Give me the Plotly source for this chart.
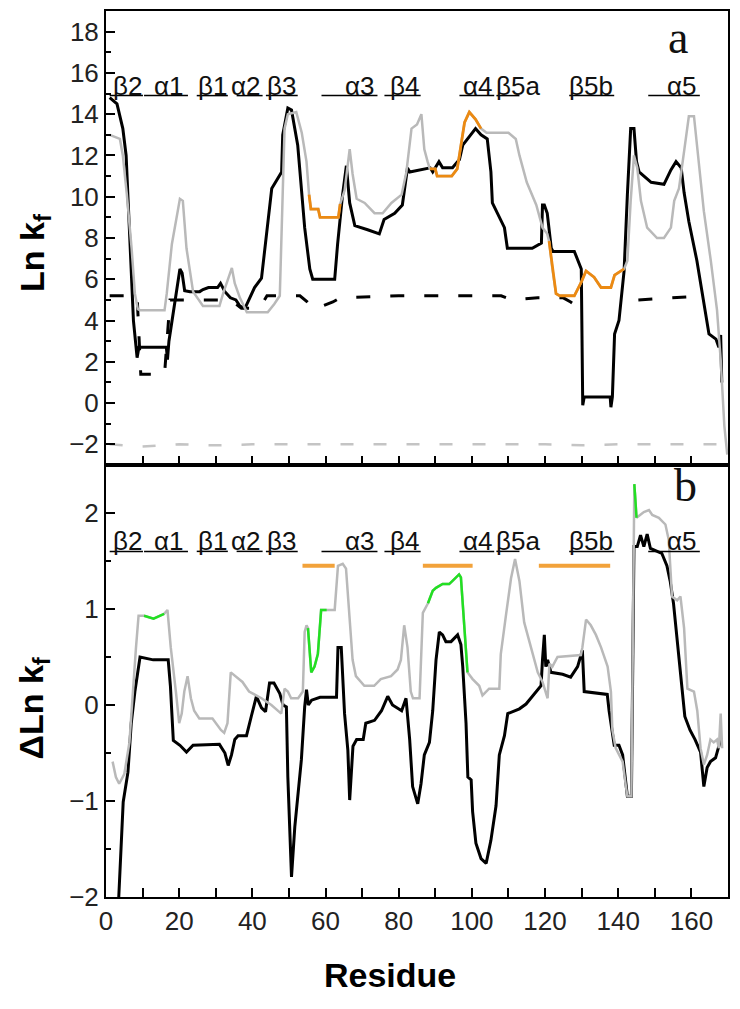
import plotly.graph_objects as go
from plotly.subplots import make_subplots

# ---------------- data ----------------
# panel a : Ln kf, grey (solid) curve
a_grey_x = [1, 3.8, 4.6, 5.7, 7.0, 7.9, 8.7, 9.3, 16.0, 16.6, 18.0, 20.2, 21.0, 22.0, 23.8, 25.6, 26.5, 31.0,
            32.0, 34.4, 35.2, 36.6, 38.5, 44.2, 46.0, 47.5, 48.0, 48.8, 49.7, 52.0, 53.5, 54.8, 55.5, 56.0,
            58.0, 58.5, 63.5, 64.0, 65.2, 66.6, 67.4, 68.5, 70.7, 73.4, 75.6, 78.0, 80.8, 82.1, 83.5, 85.0,
            86.2, 87.0, 87.9, 88.5, 90.0, 90.5, 94.5, 96.0, 97.0, 98.0, 99.3, 101.0, 102.5, 104.0, 110.0,
            112.0, 113.0, 115.0, 117.6, 119.3, 120.6, 121.1, 122.0, 123.0, 124.0, 128.0, 130.0, 131.2, 133.4,
            135.3, 138.0, 139.0, 141.6, 142.5, 143.4, 144.3, 145.2, 146.2, 147.9, 150.6, 152.5, 154.4, 155.3,
            156.6, 158.0, 159.3, 160.7, 161.5, 163.4, 165.3, 167.0, 168.0, 169.0, 169.8]
a_grey_y = [13.0, 12.8, 12.0, 10.1, 7.5, 5.3, 4.55, 4.5, 4.5, 5.3, 7.7, 9.9, 9.8, 7.5, 5.4, 4.95, 4.7, 4.7,
            5.3, 6.55, 5.8, 5.1, 4.4, 4.4, 4.8, 5.2, 8.5, 13.3, 14.0, 14.1, 13.1, 11.7, 10.1, 9.4,
            9.4, 9.0, 9.0, 9.65, 10.3, 12.3, 11.1, 9.9, 9.7, 9.2, 9.2, 9.7, 10.1, 11.2, 13.3, 13.5,
            14.0, 12.3, 11.7, 11.35, 11.35, 11.0, 11.0, 11.35, 12.5, 13.6, 14.1, 13.75, 13.3, 13.1, 13.1,
            12.8, 12.0, 10.7, 9.6, 8.5, 8.2, 7.85, 6.5, 5.3, 5.2, 5.2, 5.9, 6.4, 6.1,
            5.6, 5.6, 6.2, 6.5, 6.9, 9.8, 12.0, 11.4, 9.8, 8.5, 8.0, 8.0, 8.5, 9.8,
            10.4, 12.2, 13.9, 13.9, 12.5, 9.3, 6.9, 4.5, 2.1, -1.1, -2.5]

# panel a : black (solid) curve
a_black_x = [1, 3, 4.6, 5.5, 6.5, 7.5, 8.5, 9.0, 16.5, 16.8, 17.2, 19.0, 20.2, 20.8, 21.5, 23.0, 25.6, 26.5,
             28.0, 30.5, 31.3, 32.5, 34.0, 35.5, 36.6, 38.0, 40.6, 42.5, 44.0, 45.3, 48.0, 48.3, 49.7, 50.7,
             52.4, 54.3, 55.7, 56.5, 62.5, 63.3, 64.6, 65.7, 66.6, 68.0, 71.5, 74.7, 76.0, 78.9, 81.0, 82.4,
             83.0, 88.6, 89.3, 91.0, 92.0, 94.7, 96.6, 97.5, 101.0, 102.5, 104.2, 105.2, 105.6, 107.0, 108.9,
             109.7, 116.5, 119.0, 119.3, 119.8, 120.6, 121.7, 122.2, 128.0, 128.8, 129.9, 130.3, 130.7, 137.8,
             138.0, 138.4, 139.0, 140.2, 141.6, 142.5, 143.4, 144.3, 145.0, 145.7, 149.0, 152.5, 154.4, 155.8,
             157.2, 158.0, 159.3, 161.5, 163.4, 164.8, 166.7, 167.5, 168.0, 168.3]
a_black_y = [14.8, 14.5, 13.3, 12.0, 8.0, 4.0, 2.2, 2.7, 2.7, 2.1, 3.0, 5.0, 6.5, 6.3, 5.45, 5.4, 5.4, 5.5,
             5.6, 5.6, 5.8, 5.4, 5.1, 5.0, 4.7, 4.6, 5.6, 6.05, 8.5, 10.4, 11.2, 13.0, 14.3, 14.2,
             12.5, 8.5, 6.5, 6.0, 6.0, 7.7, 10.0, 11.5, 9.7, 8.6, 8.4, 8.2, 8.9, 9.2, 9.6, 11.4,
             11.2, 11.4, 11.2, 11.7, 11.4, 11.4, 11.8, 12.5, 13.3, 13.0, 12.8, 11.2, 9.7, 9.2, 8.5,
             7.5, 7.5, 7.75, 9.6, 9.6, 9.2, 7.5, 7.35, 7.35, 7.0, 6.5, -0.1, 0.3, 0.3,
             -0.2, 0.3, 3.35, 4.0, 6.4, 10.1, 13.3, 13.3, 11.7, 11.2, 10.7, 10.6, 11.3, 11.7,
             11.4, 10.2, 8.8, 6.9, 4.9, 3.35, 3.1, 2.7, 3.3, 1.0]

# panel a : black dashed curve (None = gap)
a_bdash_x = [1, 8.5, 9.5, 16, 17.5, 34, 37, 42, 44, 53, 55, 57, 62, 64, 80, 108, 111, 118, 125, 127, 129.5,
             None, 145.5, 150, 159]
a_bdash_y = [5.2, 5.2, 1.4, 1.4, 5.0, 5.0, 4.6, 4.6, 5.2, 5.2, 4.9, 4.55, 4.9, 5.1, 5.2, 5.2, 5.0, 5.1, 5.1, 4.9, 4.6,
             None, 5.0, 5.05, 5.15]

# panel a : grey dashed curve
a_gdash_x = [1, 10, 20, 30, 40, 50, 60, 70, 80, 90, 100, 110, 120, 130, 140, 150, 160, 169]
a_gdash_y = [-2.0, -2.1, -2.0, -2.05, -2.0, -2.0, -2.0, -2.0, -2.0, -2.0, -2.0, -2.0, -2.0, -2.05, -2.0, -2.0, -2.0, -2.0]

# residue ranges of panel a grey curve drawn in orange
a_orange_ranges = [(55.5, 64.5), (88.3, 103.0), (121.0, 141.6)]

# panel b : delta Ln kf, black curve
b_black_x = [3.0, 4.2, 4.7, 6.0, 6.9, 7.9, 8.8, 9.3, 12.9, 17.0, 17.6, 18.4, 20.2, 22.0, 23.8, 31.0, 32.5, 33.4,
             34.3, 35.2, 36.1, 38.4, 39.7, 41.1, 42.5, 43.6, 44.7, 45.9, 47.5, 48.4, 49.3, 49.7, 50.2, 50.7,
             51.6, 52.5, 53.4, 54.3, 54.8, 55.3, 56.2, 58.5, 63.0, 63.4, 64.3, 65.2, 66.1, 66.6, 67.5, 68.5,
             70.3, 71.0, 73.4, 75.3, 77.0, 78.3, 80.8, 82.0, 83.0, 83.8, 85.2, 86.1, 87.0, 88.4, 89.3, 90.2,
             91.1, 92.0, 92.9, 94.3, 96.1, 97.0, 97.5, 98.4, 98.9, 99.8, 100.2, 101.1, 102.5, 103.9, 105.2,
             106.6, 107.5, 108.9, 109.8, 113.0, 114.8, 116.1, 117.5, 118.9, 119.3, 119.8, 120.2, 120.7, 121.6,
             124.8, 127.0, 128.9, 130.2, 130.7, 137.0, 137.5, 138.9, 140.2, 141.2, 142.1, 142.5, 143.6, 144.3,
             145.2, 146.1, 147.0, 147.9, 148.8, 150.6, 151.9, 153.3, 154.2, 155.1, 156.0, 156.9, 157.8, 158.2,
             159.6, 161.0, 162.5, 163.4, 164.3, 165.2, 166.6, 168.0]
b_black_y = [-2.4, -1.44, -1.01, -0.70, -0.19, 0.14, 0.40, 0.50, 0.47, 0.47, 0.2, -0.37, -0.42, -0.49, -0.42, -0.41, -0.5, -0.63,
             -0.52, -0.36, -0.32, -0.32, -0.12, 0.09, -0.03, -0.07, 0.23, 0.23, 0.12, 0.0, -0.02, -0.75, -1.27, -1.79,
             -1.27, -0.92, -0.57, -0.02, 0.16, 0.0, 0.05, 0.08, 0.08, 0.6, 0.6, -0.09, -0.47, -0.99, -0.43, -0.36,
             -0.36, -0.19, -0.16, -0.06, 0.09, 0.0, -0.06, 0.07, -0.36, -0.85, -1.03, -0.82, -0.52, -0.39, -0.06, 0.47,
             0.76, 0.73, 0.66, 0.66, 0.73, 0.63, 0.4, -0.19, -0.75, -0.78, -1.11, -1.44, -1.6, -1.65, -1.41,
             -1.05, -0.52, -0.32, -0.09, -0.04, 0.01, 0.07, 0.14, 0.2, 0.47, 0.73, 0.4, 0.47, 0.34,
             0.32, 0.29, 0.40, 0.57, 0.14, 0.11, -0.06, -0.42, -0.42, -0.52, -0.78, -0.95, -0.95, 1.65,
             1.65, 1.77, 1.65, 1.78, 1.63, 1.6, 1.58, 1.45, 1.29, 1.06, 0.73, 0.4, 0.0, -0.12,
             -0.26, -0.36, -0.49, -0.85, -0.65, -0.59, -0.55, -0.36]

# panel b : grey curve
b_grey_x = [1.8, 2.7, 3.6, 5.0, 6.4, 7.3, 8.2, 8.9, 10.4, 13.0, 15.9, 16.8, 17.7, 19.1, 20.0, 20.7, 21.4, 22.3,
            23.2, 24.1, 25.5, 29.1, 30.0, 31.4, 32.3, 33.2, 34.1, 35.5, 37.3, 39.1, 41.0, 42.5, 45.2, 47.0,
            47.9, 48.8, 49.7, 50.6, 52.5, 53.8, 54.3, 54.8, 55.2, 56.1, 57.0, 57.9, 58.8, 60.3, 62.5, 63.4,
            64.7, 65.6, 66.5, 67.4, 68.3, 70.6, 73.3, 75.1, 77.9, 79.7, 80.6, 81.5, 82.4, 83.3, 83.9, 85.7,
            86.6, 88.0, 89.3, 90.2, 92.0, 93.8, 94.7, 96.5, 97.0, 97.9, 98.8, 100.2, 102.0, 102.9, 104.7,
            107.5, 107.9, 109.3, 110.7, 111.8, 113.0, 114.3, 115.7, 118.0, 119.3, 120.7, 121.2, 122.0, 123.4,
            129.8, 130.2, 131.2, 132.5, 133.9, 135.3, 137.1, 138.0, 138.4, 139.3, 141.2, 142.1, 142.5, 143.6,
            144.4, 145.0, 147.0, 148.4, 149.3, 151.1, 152.9, 153.8, 154.7, 156.1, 157.0, 158.0, 158.9, 160.7,
            161.6, 162.5, 163.4, 164.3, 165.2, 166.1, 167.0, 167.5, 168.0, 168.4]
b_grey_y = [-0.59, -0.75, -0.82, -0.72, -0.39, 0.14, 0.6, 0.93, 0.93, 0.90, 0.95, 0.99, 0.6, 0.14, -0.19, -0.09, 0.14, 0.3,
            0.07, -0.06, -0.14, -0.14, -0.19, -0.26, -0.29, -0.19, 0.34, 0.3, 0.24, 0.14, 0.1, 0.07, 0.0, -0.06,
            -0.09, 0.17, 0.14, 0.07, 0.07, 0.14, 0.76, 0.83, 0.8, 0.34, 0.4, 0.53, 0.99, 0.99, 0.99, 1.45,
            1.47, 1.42, 0.96, 0.47, 0.3, 0.2, 0.2, 0.27, 0.3, 0.37, 0.47, 0.83, 0.6, 0.14, 0.07, 0.07,
            0.96, 1.06, 1.19, 1.22, 1.26, 1.26, 1.29, 1.36, 1.33, 0.8, 0.34, 0.27, 0.2, 0.1, 0.17,
            0.17, 0.53, 0.93, 1.32, 1.52, 1.29, 0.86, 0.66, 0.34, 0.24, 0.07, 0.43, 0.4, 0.5,
            0.52, 0.6, 0.89, 0.83, 0.73, 0.6, 0.4, 0.14, -0.26, -0.45, -0.59, -0.85, -0.95, -0.95,
            2.3, 1.95, 2.01, 2.03, 1.98, 1.95, 1.88, 1.72, 1.13, 1.09, 1.13, 0.8, 0.17, 0.14,
            -0.06, -0.45, -0.62, -0.52, -0.36, -0.39, -0.36, -0.45, -0.09, -0.45]

# residue ranges of panel b grey curve drawn in green
b_green_ranges = [(10.4, 15.9), (55.2, 60.3), (88.0, 98.8), (144.4, 145.0)]

# orange bars in panel b
b_bar_start = [53.7, 86.6, 118.3]
b_bar_end = [62.5, 100.2, 137.8]
b_bar_level = 1.45

# secondary structure labels
ss_names = ['β2', 'α1', 'β1', 'α2', 'β3', 'α3', 'β4', 'α4', 'β5a', 'β5b', 'α5']
ss_start = [1.0, 10.4, 24.8, 35.7, 43.7, 58.9, 76.1, 96.6, 106.7, 126.6, 148.2]
ss_end = [10.1, 22.4, 33.3, 42.8, 52.4, 74.2, 86.0, 106.1, 113.0, 138.9, 162.3]
ss_text_end = [10.3, 22.0, 33.5, 43.0, 52.6, 74.0, 86.2, 106.3, 119.2, 139.0, 162.0]
ss_level_a = 14.9
ss_level_b = 1.6


def pick(xs, ys, ranges):
    """points of a curve that fall inside the given residue ranges"""
    px, py = [], []
    for lo, hi in ranges:
        for x, y in zip(xs, ys):
            if lo <= x <= hi:
                px.append(x)
                py.append(y)
        px.append(None)
        py.append(None)
    return px, py


BLACK = '#000000'
GREY = '#b9b9b9'
ORANGE = '#ec8a12'
GREEN = '#22e022'

fig = make_subplots(rows=2, cols=1, shared_xaxes=True, vertical_spacing=0,
                    row_heights=[455, 433])

# ---- panel a ----
fig.add_trace(go.Scatter(x=a_gdash_x, y=a_gdash_y, mode='lines',
                         line=dict(color='#c4c4c4', width=2.5, dash='13px,20px')), row=1, col=1)
fig.add_trace(go.Scatter(x=a_bdash_x, y=a_bdash_y, mode='lines',
                         line=dict(color=BLACK, width=3, dash='14px,20px')), row=1, col=1)
fig.add_trace(go.Scatter(x=a_black_x, y=a_black_y, mode='lines',
                         line=dict(color=BLACK, width=3)), row=1, col=1)
fig.add_trace(go.Scatter(x=a_grey_x, y=a_grey_y, mode='lines',
                         line=dict(color=GREY, width=2.5)), row=1, col=1)
ox, oy = pick(a_grey_x, a_grey_y, a_orange_ranges)
fig.add_trace(go.Scatter(x=ox, y=oy, mode='lines',
                         line=dict(color=ORANGE, width=2.8)), row=1, col=1)

# ---- panel b ----
fig.add_hline(y=0, line=dict(color=BLACK, width=1.2, dash='4px,2px,1px,2px'), row=2, col=1)
fig.add_trace(go.Scatter(x=b_black_x, y=b_black_y, mode='lines',
                         line=dict(color=BLACK, width=3)), row=2, col=1)
fig.add_trace(go.Scatter(x=b_grey_x, y=b_grey_y, mode='lines',
                         line=dict(color=GREY, width=2.5)), row=2, col=1)
gx, gy = pick(b_grey_x, b_grey_y, b_green_ranges)
fig.add_trace(go.Scatter(x=gx, y=gy, mode='lines',
                         line=dict(color=GREEN, width=2.5)), row=2, col=1)
bx, by = [], []
for s, e in zip(b_bar_start, b_bar_end):
    bx += [s, e, None]
    by += [b_bar_level, b_bar_level, None]
fig.add_trace(go.Scatter(x=bx, y=by, mode='lines',
                         line=dict(color='#f2a23a', width=4)), row=2, col=1)

# secondary structure labels with underlines, both panels
for row, lev in ((1, ss_level_a), (2, ss_level_b)):
    for name, s, e, te in zip(ss_names, ss_start, ss_end, ss_text_end):
        fig.add_shape(type='line', x0=s, x1=e, y0=lev, y1=lev,
                      line=dict(color=BLACK, width=1.5), row=row, col=1)
        fig.add_annotation(x=te, y=lev, text=name, showarrow=False, xanchor='right', yanchor='bottom',
                           yshift=-7, font=dict(family='Liberation Sans, Arial', size=26, color='#111'),
                           row=row, col=1)

tick_font = dict(family='Liberation Sans, Arial', size=26, color='#222')
ax_common = dict(showline=True, linecolor=BLACK, linewidth=2, mirror=True, ticks='inside',
                 tickcolor=BLACK, tickwidth=1.5, ticklen=9, showgrid=False, zeroline=False,
                 tickfont=tick_font)

fig.update_xaxes(range=[0, 170], dtick=10, showticklabels=False, **ax_common, row=1, col=1)
fig.update_xaxes(range=[0, 170], dtick=20, showticklabels=True,
                 minor=dict(dtick=10, ticks='inside', ticklen=9, tickcolor=BLACK, tickwidth=1.5),
                 **ax_common, row=2, col=1)
fig.update_yaxes(range=[-3, 19], dtick=2, tick0=0,
                 minor=dict(dtick=1, ticks='inside', ticklen=5, tickcolor=BLACK, tickwidth=1.5),
                 **ax_common, row=1, col=1)
fig.update_yaxes(range=[-2, 2.5], dtick=1, tick0=0,
                 minor=dict(dtick=0.5, ticks='inside', ticklen=5, tickcolor=BLACK, tickwidth=1.5),
                 **ax_common, row=2, col=1)

title_font = dict(family='Liberation Sans, Arial', size=34, color=BLACK)
mid = dict(xref='paper', yref='paper', showarrow=False, xanchor='center', yanchor='middle')
fig.add_annotation(x=-0.114, y=0.727, text='<b>Ln k<sub>f</sub></b>', textangle=-90, font=title_font, **mid)
fig.add_annotation(x=-0.117, y=0.213, text='<b>ΔLn k<sub>f</sub></b>', textangle=-90, font=title_font, **mid)
fig.add_annotation(x=0.457, y=-0.088, text='<b>Residue</b>', font=title_font, **mid)
letter_font = dict(family='Liberation Serif, Times New Roman', size=46, color='#111')
fig.add_annotation(x=0.92, y=0.970, text='a', font=letter_font, **mid)
fig.add_annotation(x=0.931, y=0.465, text='b', font=letter_font, **mid)

# page body has an 8px margin; margins below compensate so the plot frame lands where the reference has it
fig.update_layout(width=740, height=1009, showlegend=False,
                  margin=dict(l=98, r=20, t=1, b=120),
                  plot_bgcolor='white', paper_bgcolor='white')

fig.write_html("out.html")
